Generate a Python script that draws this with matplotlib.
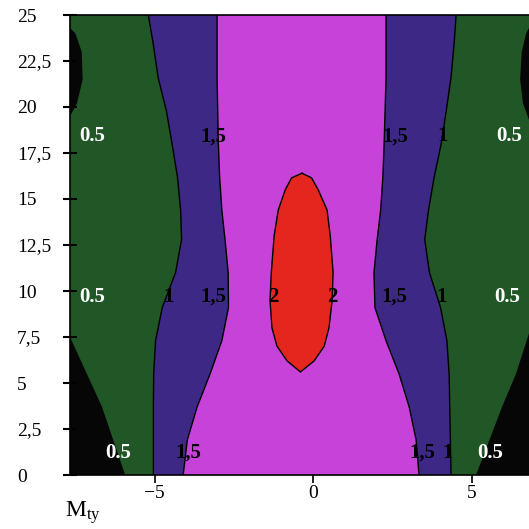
import numpy as np
import matplotlib
matplotlib.use('Agg')
from matplotlib import pyplot as plt

plt.rcParams['font.family'] = ['Liberation Serif', 'DejaVu Serif']
plt.rcParams['mathtext.default'] = 'regular'

# contour boundaries (x position at each y)
y_rows = [0, 1.9, 3.7, 5.5, 7.3, 9.1, 11.0, 12.8, 14.4, 16.2, 18.0, 19.8, 21.6, 23.5, 25]
left_1 = [-5.04, -5.04, -5.04, -5.03, -4.97, -4.76, -4.34, -4.15, -4.18, -4.28, -4.45, -4.63, -4.89, -5.05, -5.2]
left_15 = [-4.1, -3.97, -3.66, -3.25, -2.88, -2.67, -2.68, -2.78, -2.88, -2.95, -2.99, -3.01, -3.03, -3.03, -3.03]
right_15 = [3.34, 3.25, 3.03, 2.71, 2.3, 1.95, 1.92, 2.02, 2.13, 2.2, 2.24, 2.27, 2.3, 2.3, 2.3]
right_1 = [4.35, 4.33, 4.31, 4.29, 4.22, 4.02, 3.67, 3.52, 3.64, 3.82, 4.04, 4.2, 4.35, 4.45, 4.51]

# level 2 closed contour
ring_x = [-0.35, -0.05, 0.16, 0.44, 0.54, 0.63, 0.6, 0.5, 0.35, 0.03, -0.4,
          -0.82, -1.14, -1.3, -1.36, -1.32, -1.23, -1.1, -0.88, -0.68, -0.35]
ring_y = [16.4, 16.15, 15.5, 14.4, 13.0, 11.0, 9.5, 8.0, 7.0, 6.2, 5.6,
          6.2, 7.0, 8.0, 9.5, 11.0, 13.0, 14.4, 15.5, 16.15, 16.4]

# below 0.5 (black) patches
low_bl_x = [-7.67, -5.93, -6.66, -7.67]
low_bl_y = [0, 0, 3.7, 7.5]
low_br_x = [5.14, 5.96, 6.4, 6.81, 6.81]
low_br_y = [0, 3.7, 5.5, 7.7, 0]
low_tl_x = [-7.67, -7.45, -7.27, -7.3, -7.5, -7.67]
low_tl_y = [19.5, 20.2, 21.5, 23.0, 24.0, 24.3]
low_tr_x = [6.81, 6.62, 6.53, 6.58, 6.72, 6.81]
low_tr_y = [19.3, 20.2, 21.5, 23.0, 24.0, 24.3]

# contour labels
lab_text = ['0.5', '1,5', '1,5', '1', '0.5',
            '0.5', '1', '1,5', '2', '2', '1,5', '1', '0.5',
            '0.5', '1,5', '1,5', '1', '0.5']
lab_x = [-6.97, -3.15, 2.6, 4.07, 6.18,
         -6.97, -4.57, -3.15, -1.26, 0.6, 2.55, 4.04, 6.12,
         -6.15, -3.94, 3.44, 4.23, 5.6]
lab_y = [18.4, 18.4, 18.4, 18.4, 18.4,
         9.7, 9.7, 9.7, 9.7, 9.7, 9.7, 9.7, 9.7,
         1.2, 1.2, 1.2, 1.2, 1.2]

yticks = [0, 2.5, 5, 7.5, 10, 12.5, 15, 17.5, 20, 22.5, 25]
xticks = [-5, 0, 5]

c_black = '#060606'
c_green = '#215626'
c_purple = '#3d2985'
c_magenta = '#c642d8'
c_red = '#e4261f'

fig = plt.figure(figsize=(5.29, 5.29), dpi=100)
ax = fig.add_axes([70 / 529, 54 / 529, 459 / 529, 460 / 529])
ax.set_facecolor(c_green)

ax.fill(np.r_[left_1, right_1[::-1]], np.r_[y_rows, y_rows[::-1]], color=c_purple, lw=0)
ax.fill(np.r_[left_15, right_15[::-1]], np.r_[y_rows, y_rows[::-1]], color=c_magenta, lw=0)
ax.fill(ring_x, ring_y, color=c_red, lw=0)
for px, py in [(low_bl_x, low_bl_y), (low_br_x, low_br_y), (low_tl_x, low_tl_y), (low_tr_x, low_tr_y)]:
    ax.fill(px, py, color=c_black, lw=0)

for bx in [left_1, left_15, right_15, right_1]:
    ax.plot(bx, y_rows, color='black', lw=1)
ax.plot(ring_x, ring_y, color='black', lw=1)

for t, x, y in zip(lab_text, lab_x, lab_y):
    col = 'white' if t == '0.5' else 'black'
    ax.text(x, y, t, color=col, fontsize=15, fontweight='bold', ha='center', va='center')

ax.set_xlim(-7.67, 6.81)
ax.set_ylim(0, 25)
ax.set_xticks(xticks)
ax.set_xticklabels(['\u22125', '0', '5'])
ax.set_yticks(yticks)
ax.set_yticklabels([('%g' % v).replace('.', ',') for v in yticks])
ax.tick_params(axis='x', direction='out', length=6, width=1.2, pad=1, labelsize=14)
ax.tick_params(axis='y', direction='inout', length=10, width=1.5, pad=33, labelsize=14)
for lab in ax.get_yticklabels():
    lab.set_horizontalalignment('left')
ax.spines['right'].set_visible(False)
for s in ['left', 'bottom', 'top']:
    ax.spines[s].set_linewidth(1.2)

fig.text(65 / 529, 1 - 513 / 529, r'$\mathregular{M_{ty}}$', fontsize=17, va='center', ha='left')

fig.savefig('out.png', dpi=100, facecolor='white')
